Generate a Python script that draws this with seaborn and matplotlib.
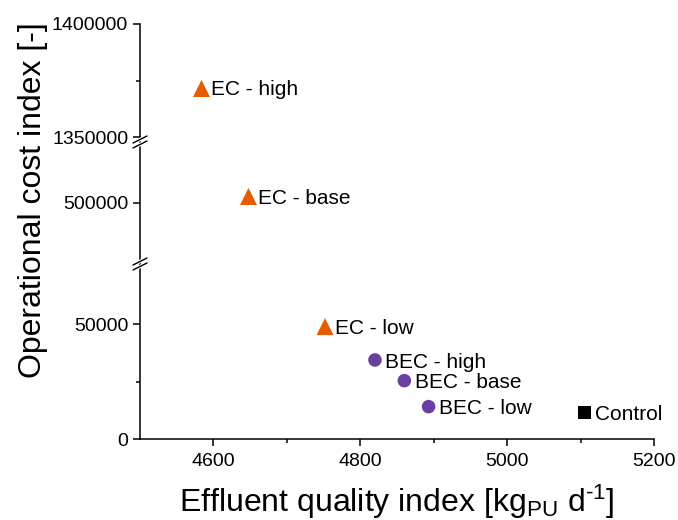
import pandas as pd
import matplotlib
matplotlib.use('Agg')
import matplotlib.pyplot as plt
import seaborn as sns
from matplotlib.lines import Line2D
from matplotlib.ticker import FixedLocator

# data
labels = ['EC - high', 'EC - base', 'EC - low', 'BEC - high', 'BEC - base', 'BEC - low', 'Control']
eqi = [4583, 4647, 4752, 4820, 4860, 4893, 5105]
oci = [1371900, 502800, 49000, 34500, 25500, 14200, 11600]
group = ['EC', 'EC', 'EC', 'BEC', 'BEC', 'BEC', 'Control']

x_ticks = [4600, 4800, 5000, 5200]
x_minor = [4700, 4900, 5100]

df = pd.DataFrame({'label': labels, 'eqi': eqi, 'oci': oci, 'group': group})

sns.set_style('ticks')
plt.rcParams['font.family'] = ['Liberation Sans', 'DejaVu Sans']
plt.rcParams['mathtext.fontset'] = 'custom'
plt.rcParams['mathtext.rm'] = 'Liberation Sans'
plt.rcParams['mathtext.it'] = 'Liberation Sans:italic'
plt.rcParams['mathtext.default'] = 'regular'
plt.rcParams['text.color'] = 'black'
plt.rcParams['axes.edgecolor'] = 'black'
plt.rcParams['xtick.color'] = 'black'
plt.rcParams['ytick.color'] = 'black'

W, H = 678, 520
fig = plt.figure(figsize=(W / 100, H / 100), dpi=100)

def px_axes(top, bottom):
    left = 140 / W
    width = (654 - 140) / W
    return fig.add_axes([left, 1 - bottom / H, width, (bottom - top) / H])

# three stacked segments of the broken y axis
ax_top = px_axes(24, 137.3)
ax_mid = px_axes(137.3, 264)
ax_bot = px_axes(264, 439.3)

segments = [
    (ax_top, (1350000, 1400000), [1350000, 1400000], [1375000]),
    (ax_mid, (472950, 528860), [500000], []),
    (ax_bot, (0, 76220), [0, 50000], [25000]),
]

palette = {'EC': '#E65C00', 'BEC': '#6A3FA0', 'Control': '#000000'}
markers = {'EC': '^', 'BEC': 'o', 'Control': 's'}
sizes = {'EC': 150, 'BEC': 95, 'Control': 90}

for ax, (lo, hi), major, minor in segments:
    sub = df[(df.oci >= lo) & (df.oci <= hi)]
    sns.scatterplot(data=sub, x='eqi', y='oci', hue='group', style='group', size='group',
                    palette=palette, markers=markers, sizes=sizes, linewidth=0,
                    legend=False, ax=ax, clip_on=False, zorder=3)
    for _, r in sub.iterrows():
        ax.annotate(r['label'], (r['eqi'], r['oci']), xytext=(7.5, -1.5), textcoords='offset points',
                    va='center', ha='left', fontsize=15, color='black')
    ax.set_xlim(4500, 5200)
    ax.set_ylim(lo, hi)
    ax.yaxis.set_major_locator(FixedLocator(major))
    ax.yaxis.set_minor_locator(FixedLocator(minor))
    ax.set_yticklabels([str(v) for v in major])
    ax.set_xlabel('')
    ax.set_ylabel('')
    ax.patch.set_alpha(0)
    for s in ['top', 'right']:
        ax.spines[s].set_visible(False)
    ax.spines['left'].set_linewidth(1.1)
    ax.spines['bottom'].set_linewidth(1.1)
    ax.tick_params(axis='y', which='major', length=5, width=1.1, labelsize=14, pad=3.5,
                   colors='black')
    ax.tick_params(axis='y', which='minor', length=3, width=1.1, colors='black')
    if ax is not ax_bot:
        ax.spines['bottom'].set_visible(False)
        ax.tick_params(axis='x', which='both', bottom=False, labelbottom=False)

ax_bot.xaxis.set_major_locator(FixedLocator(x_ticks))
ax_bot.xaxis.set_minor_locator(FixedLocator(x_minor))
ax_bot.tick_params(axis='x', which='major', length=5, width=1.1, labelsize=14, pad=5,
                   colors='black')
ax_bot.tick_params(axis='x', which='minor', length=3, width=1.1, colors='black')

# break marks on the y axis
def axis_break(y_px):
    x0, x1 = 133, 147
    for color, lw in (('white', 2.5), ('black', 1.0)):
        for dy in (-2.5, 2.5):
            y0, y1 = y_px + dy + 3.5, y_px + dy - 3.5
            fig.add_artist(Line2D([x0 / W, x1 / W], [1 - y0 / H, 1 - y1 / H], color=color,
                                  lw=lw, transform=fig.transFigure))

axis_break(142)
axis_break(264)

fig.text(33 / W, 1 - 200 / H, 'Operational cost index [-]', rotation=90,
         ha='center', va='center', fontsize=23)
fig.text(397 / W, 1 - 512 / H, r'Effluent quality index [kg$_{PU}$ d$^{\text{-}1}$]',
         ha='center', va='baseline', fontsize=23)

fig.savefig('out.png', dpi=100)
